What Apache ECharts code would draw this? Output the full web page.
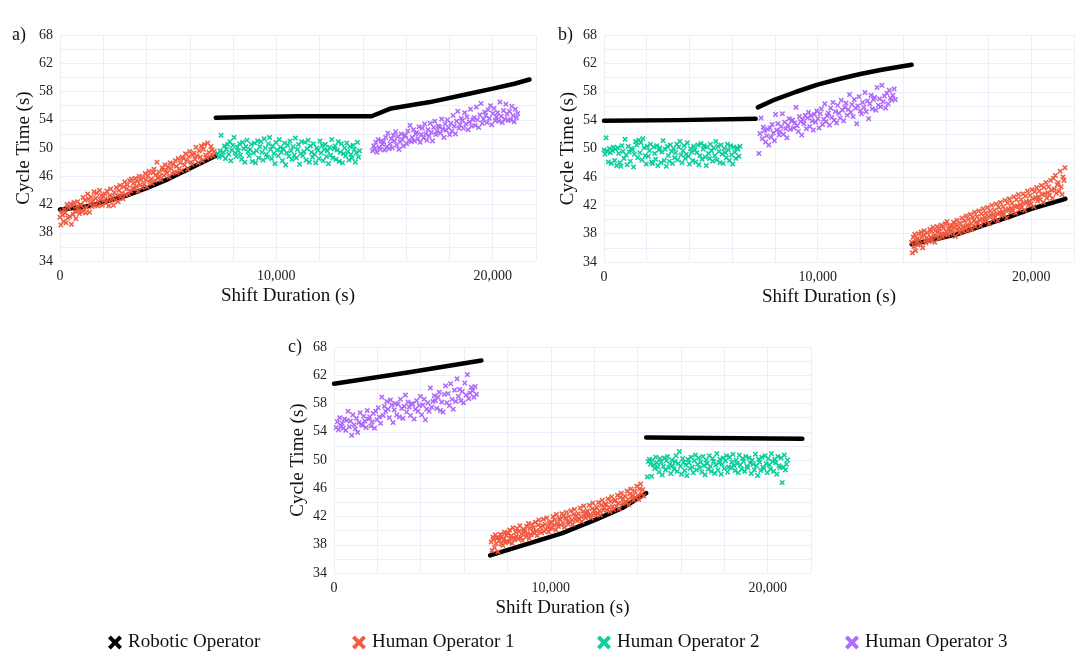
<!DOCTYPE html>
<html>
<head>
<meta charset="utf-8">
<script src="https://cdn.jsdelivr.net/npm/echarts/dist/echarts.min.js"></script>
<style>
  html, body { margin: 0; padding: 0; background: #ffffff; }
  #chart { width: 1077px; height: 661px; }
</style>
</head>
<body>
<div id="chart"></div>
<script>
// ---- Data -----------------------------------------------------------------
const operatorNames = ['Robotic Operator', 'Human Operator 1', 'Human Operator 2', 'Human Operator 3'];
const panelLetters = ['a)', 'b)', 'c)'];
const yTickValues = [34, 38, 42, 46, 50, 54, 58, 62, 66];
const yTickLabels = ['34', '38', '42', '46', '50', '54', '58', '62', '68'];

// Robotic operator cycle time curves, [shift time (s), cycle time (s)], one array per stretch
const robotA = [
  [[0, 41.3], [1000, 41.6], [2000, 42.3], [3000, 43.2], [4000, 44.3], [5000, 45.6], [6000, 47.1], [7200, 48.9]],
  [[7200, 54.3], [9000, 54.4], [11000, 54.5], [14400, 54.5], [15300, 55.6], [17100, 56.5], [18800, 57.6], [20000, 58.4], [21000, 59.1], [21700, 59.7]]
];
const robotB = [
  [[0, 53.9], [3500, 54.0], [7100, 54.2]],
  [[7200, 55.8], [8000, 56.9], [9000, 58.0], [10000, 59.0], [11000, 59.8], [12000, 60.5], [13000, 61.1], [14400, 61.8]],
  [[14400, 36.5], [15500, 37.2], [16500, 37.9], [18000, 39.4], [19000, 40.4], [20000, 41.5], [21600, 42.9]]
];
const robotC = [
  [[0, 60.8], [3400, 62.4], [6800, 64.1]],
  [[7200, 36.5], [9000, 38.2], [10500, 39.6], [12100, 41.6], [13300, 43.2], [14400, 45.3]],
  [[14400, 53.2], [21600, 53.0]]
];

// Human operator blocks: start time (s) and operator number of each block
const blockStartsA = [0, 7300, 14450];
const blockOperatorsA = [1, 2, 3];
const blockStartsB = [0, 7250, 14400];
const blockOperatorsB = [2, 3, 1];
const blockStartsC = [100, 7250, 14450];
const blockOperatorsC = [3, 1, 2];

// Successive cycle times (s) in each block; each cycle starts when the previous one ends
const cyclesA1 = [
  40.2,39.1,41.0,40.5,39.6,41.3,40.8,39.4,42.0,40.1,
  41.5,40.3,42.1,39.2,41.8,40.6,42.3,41.0,40.0,41.7,
  42.4,41.2,40.7,42.0,41.9,40.9,43.0,41.4,42.6,40.8,
  41.6,43.5,42.8,40.9,42.2,43.1,41.7,42.5,43.8,41.9,
  42.9,43.6,41.8,42.4,44.0,42.7,43.3,41.9,43.2,42.6,
  43.5,42.2,43.9,42.7,41.8,43.3,44.2,42.6,43.1,41.9,
  43.7,42.6,44.4,43.3,42.4,44.0,44.7,43.1,43.6,42.8,
  44.5,45.2,43.4,44.2,44.8,43.5,45.4,43.9,45.6,44.3,
  45.0,44.2,45.7,44.6,45.3,43.9,46.0,44.8,45.5,44.4,
  45.8,44.9,46.4,45.5,44.5,46.1,46.7,45.2,45.6,45.0,
  46.5,47.0,45.4,46.2,48.0,45.7,46.6,46.0,45.5,47.2,
  46.9,46.1,47.6,46.8,46.5,47.3,45.9,47.9,47.1,46.4,
  47.7,46.6,48.2,47.4,46.5,48.5,47.1,47.9,46.8,48.7,
  48.5,47.6,49.2,48.2,47.0,48.8,49.5,48.0,47.7,49.0,
  49.3,48.4,50.1,48.9,47.9,49.6,48.7,50.3,48.2,49.8,
  50.5,49.0,48.6,50.7,49.4,48.8,50.2,49.7,48.9,49.5
];
const cyclesA2 = [
  49.2,48.7,49.6,51.8,48.9,49.4,50.3,48.5,49.8,50.5,
  49.1,50.9,48.2,49.7,50.4,51.5,49.3,48.8,50.1,49.6,
  50.6,49.0,48.4,50.8,49.9,48.0,50.2,51.1,49.5,48.9,
  49.8,50.5,48.1,49.3,50.7,47.9,49.6,51.0,48.6,50.2,
  50.9,49.4,48.3,51.3,50.0,49.1,48.7,50.6,51.5,49.8,
  48.5,50.3,49.2,47.8,50.8,49.7,48.9,51.2,50.1,49.4,
  48.2,49.9,50.7,47.6,49.3,50.4,48.8,51.0,49.6,48.4,
  50.2,49.0,51.4,48.6,49.8,50.5,47.7,49.2,50.9,48.9,
  49.5,50.8,48.3,49.9,51.1,48.0,50.3,49.4,48.7,50.6,
  49.1,47.9,50.0,49.7,48.5,51.0,49.3,50.4,48.2,49.8,
  50.5,48.8,49.6,47.8,50.1,49.0,51.2,48.6,49.9,50.3,
  48.4,49.7,50.9,48.1,49.4,50.6,47.9,49.2,50.0,48.9,
  50.7,49.5,48.3,50.2,49.1,48.6,50.4,49.8,48.0,49.3,
  50.8,48.7,49.6
];
const cyclesA3 = [
  49.6,50.3,49.9,50.8,49.4,51.2,50.1,49.8,51.0,50.5,
  50.9,49.7,51.5,50.2,52.1,49.9,50.6,51.3,50.0,51.8,
  51.0,52.3,50.4,51.6,49.8,50.9,52.0,51.2,50.3,51.7,
  51.8,50.6,52.4,51.1,53.2,50.9,51.5,52.6,51.0,52.0,
  52.2,51.3,53.0,50.8,51.9,52.8,51.4,53.4,52.0,51.1,
  52.6,51.7,53.5,52.2,51.0,52.9,53.8,51.9,52.4,53.1,
  53.0,52.1,54.1,52.7,51.5,53.4,52.5,54.0,52.9,51.9,
  53.5,52.4,54.6,53.1,52.0,53.8,55.2,52.8,53.3,54.2,
  53.9,52.8,55.0,53.4,54.4,52.6,53.7,55.5,53.1,54.0,
  54.3,53.2,55.8,54.0,52.9,54.7,56.3,53.5,54.1,55.1,
  54.6,53.6,55.4,54.2,56.0,53.3,54.9,55.6,53.9,54.4,
  55.0,53.8,56.5,54.5,53.6,55.3,54.1,56.2,54.8,53.9,
  55.2,54.0,55.9,54.6,53.7,55.5,54.3,54.9
];
const cyclesB1 = [
  49.8,49.2,51.5,49.6,48.1,50.0,49.4,47.9,49.7,50.2,
  48.3,49.9,47.6,50.1,49.3,48.0,47.5,50.4,49.6,48.6,
  51.3,49.1,47.7,50.3,49.5,48.2,50.0,49.8,47.4,49.2,
  51.0,50.5,48.7,51.2,49.4,50.8,48.4,51.4,50.1,49.0,
  47.8,50.3,48.9,49.7,50.6,48.1,47.9,50.2,49.3,48.5,
  50.4,47.6,49.8,50.1,48.0,49.5,51.1,48.3,49.9,47.5,
  50.3,49.0,48.2,50.5,49.6,47.9,50.0,48.7,49.4,50.6,
  48.4,50.2,51.0,49.1,48.0,49.7,50.4,48.6,49.2,50.8,
  48.9,47.8,50.0,49.5,48.3,50.3,49.8,48.1,49.4,50.5,
  47.7,49.0,50.7,48.5,49.9,50.4,48.8,47.6,50.2,49.3,
  48.6,50.6,49.7,48.2,50.1,49.0,51.0,48.4,50.3,49.6,
  48.0,50.5,49.2,47.9,50.0,49.4,48.7,50.6,49.8,48.3,
  50.4,49.1,47.8,50.2,49.5,48.6,50.1,49.9,48.9,50.3
];
const cyclesB2 = [
  49.3,52.1,54.3,51.4,53.0,52.5,50.9,51.8,52.7,50.5,
  52.9,51.6,53.4,52.2,51.1,54.8,52.6,53.5,51.9,52.4,
  53.1,54.9,52.0,53.7,52.8,51.5,53.3,54.2,52.7,53.9,
  54.0,52.9,53.6,55.8,53.2,52.4,54.5,53.8,51.9,54.1,
  53.5,54.7,52.8,54.3,55.1,53.1,54.6,53.9,52.6,54.8,
  53.7,55.3,54.2,52.9,54.9,55.6,53.4,54.1,56.3,53.8,
  54.6,55.0,53.3,55.7,54.4,56.5,54.0,55.2,53.6,56.1,
  55.0,54.3,56.8,55.4,53.9,55.8,56.4,54.7,55.5,57.6,
  55.1,56.2,54.5,56.9,55.7,53.5,56.0,57.3,55.3,54.9,
  56.5,55.8,57.9,55.2,56.7,54.2,56.3,57.5,55.6,56.9,
  57.2,55.4,58.6,56.1,57.0,55.9,58.9,56.6,57.4,55.7,
  57.8,56.3,58.2,57.1,56.8,57.5,58.4,56.9
];
const cyclesB3 = [
  36.8,35.3,37.5,36.2,37.9,35.6,36.9,37.3,36.4,38.0,
  37.1,36.5,38.2,37.6,36.0,37.8,38.4,37.0,36.7,37.4,
  38.1,37.2,36.9,38.6,37.5,38.3,37.0,38.9,37.7,36.8,
  38.4,37.6,39.0,38.2,37.3,38.7,37.9,39.2,38.0,37.5,
  38.8,37.9,39.4,38.3,39.7,37.8,38.6,39.1,38.0,38.5,
  39.1,38.2,39.6,38.8,37.6,39.3,39.9,38.5,38.9,38.1,
  39.5,38.6,40.2,39.0,38.3,39.8,38.9,40.5,39.2,38.4,
  40.0,39.1,40.7,39.4,38.6,40.3,39.8,41.0,39.0,39.6,
  40.4,39.5,41.2,39.9,39.1,40.8,40.1,41.5,39.7,40.3,
  40.9,39.8,41.7,40.4,39.4,41.2,40.6,42.0,40.0,40.7,
  41.3,40.3,42.2,40.8,39.8,41.7,41.0,42.4,40.5,41.1,
  41.8,40.7,42.7,41.3,40.2,42.3,41.5,42.9,41.0,41.6,
  42.3,41.2,43.2,41.8,40.9,42.8,41.9,43.5,41.4,42.1,
  42.8,41.7,43.6,42.3,41.3,43.3,42.5,44.0,42.0,42.6,
  43.4,42.2,44.2,42.9,41.8,43.9,43.1,44.5,42.6,43.2,
  44.0,42.8,44.8,43.5,42.4,44.5,43.6,45.2,43.0,43.8,
  44.6,43.4,45.5,44.1,43.0,45.8,44.3,46.2,43.7,44.9,
  45.2,44.0,46.8,44.6,43.5,46.0,45.5,47.3
];
const cyclesC1 = [
  54.6,55.4,54.3,56.0,54.8,55.2,54.5,55.8,54.2,55.6,
  56.9,54.7,55.5,53.5,56.4,55.0,54.4,55.9,53.9,55.3,
  56.7,55.1,54.9,56.2,55.5,54.6,57.0,55.8,56.1,54.8,
  55.4,56.6,54.5,56.9,55.7,57.4,56.1,55.2,58.9,56.3,
  57.6,56.9,58.3,57.2,56.0,58.5,57.8,55.3,57.1,58.0,
  56.4,57.9,56.1,58.6,57.3,55.9,57.6,59.2,56.8,58.2,
  57.5,56.3,58.0,57.9,55.8,57.2,58.4,56.9,57.7,59.0,
  56.4,57.8,58.6,55.7,57.2,58.1,56.9,60.2,57.5,58.3,
  59.1,58.4,57.3,58.9,59.6,57.0,58.2,56.8,59.3,60.5,
  58.1,59.4,57.7,60.8,58.6,57.2,59.9,58.3,61.5,59.0,
  60.0,58.4,59.7,58.1,60.9,59.2,62.1,58.7,59.5,60.3,
  59.8,58.9,60.4,59.3
];
const cyclesC2 = [
  38.4,37.2,39.1,38.8,37.6,39.4,38.2,38.9,37.0,39.0,
  38.6,39.5,38.1,39.2,37.9,38.7,39.8,38.3,39.3,38.5,
  39.6,38.4,40.1,38.9,39.3,38.2,40.4,39.0,38.7,39.8,
  39.2,40.3,38.8,39.9,40.7,39.0,39.5,38.6,40.2,39.7,
  40.0,39.1,40.6,39.6,41.0,38.9,40.3,39.4,40.9,39.8,
  40.4,39.6,41.2,40.0,39.3,40.8,41.5,39.9,40.5,39.7,
  40.7,41.6,39.9,40.9,40.2,41.8,40.5,39.8,41.1,40.3,
  41.2,40.4,42.0,40.8,41.5,40.1,42.3,41.0,40.6,41.7,
  41.6,40.8,42.4,41.1,42.0,40.5,41.8,42.6,41.3,40.9,
  42.0,41.2,42.8,41.5,40.9,42.3,43.0,41.6,42.1,41.4,
  42.4,41.6,43.2,42.0,41.3,42.7,43.5,42.1,41.8,42.5,
  42.8,42.0,43.6,42.3,41.8,43.1,43.9,42.4,42.9,42.2,
  43.3,42.4,44.0,42.8,42.2,43.6,44.3,42.9,43.2,43.7,
  43.8,42.9,44.5,43.3,42.7,44.1,44.8,43.4,43.0,44.2,
  44.3,43.4,45.0,43.9,43.1,44.7,45.3,43.8,44.5,44.0,
  44.9,44.0,45.6,44.4,43.7,45.2,45.9,44.5,45.0,44.3,
  45.6,44.7,46.3,45.0,44.4,45.9,46.6,45.2,45.8,44.9
];
const cyclesC3 = [
  47.6,49.8,50.1,49.4,47.7,50.0,49.3,48.8,50.4,49.6,
  49.0,48.3,50.2,49.7,47.9,49.1,50.3,48.6,49.9,50.5,
  48.9,49.4,48.1,50.0,49.2,48.7,49.8,50.6,48.4,49.5,
  51.2,49.1,48.0,50.2,49.7,48.5,49.3,47.8,50.1,49.6,
  48.8,50.4,49.0,48.2,49.9,50.7,48.6,49.4,50.3,48.9,
  49.7,48.3,50.5,49.2,47.9,50.0,49.5,48.7,50.6,49.1,
  48.4,50.2,49.8,48.1,49.3,50.9,48.6,49.6,50.1,48.0,
  49.4,50.3,48.8,49.9,50.6,48.3,49.0,50.4,48.9,49.7,
  50.8,49.2,48.5,50.0,49.5,48.2,50.7,49.3,48.7,50.2,
  49.8,48.4,50.5,49.1,48.9,50.3,49.6,48.1,50.0,49.4,
  48.6,50.8,49.2,47.8,50.1,49.7,48.5,50.4,49.0,48.8,
  50.6,49.5,48.2,50.2,49.3,48.7,50.9,49.8,48.4,50.1,
  49.6,48.0,50.5,49.2,48.9,50.3,46.8,49.0,50.7,48.6,
  49.4,50.0
];

// ---- Styling and layout -------------------------------------------------------
const FONT = '"Liberation Serif", "Times New Roman", serif';
const operatorColors = ['#000000', '#EF553B', '#00CC96', '#AB63FA'];
const GRID_COLOR = '#EBF0F8';
const X_ICON = 'path://M2,0 L5,3 L8,0 L10,2 L7,5 L10,8 L8,10 L5,7 L2,10 L0,8 L3,5 L0,2 Z';

const panelGrids = [
  { left: 60, top: 35, width: 476, height: 226 },
  { left: 604, top: 35, width: 476, height: 227 },
  { left: 334, top: 347, width: 477, height: 226 }
];
const panelRobots = [robotA, robotB, robotC];
const panelBlocks = [
  { starts: blockStartsA, ops: blockOperatorsA, cycles: [cyclesA1, cyclesA2, cyclesA3] },
  { starts: blockStartsB, ops: blockOperatorsB, cycles: [cyclesB1, cyclesB2, cyclesB3] },
  { starts: blockStartsC, ops: blockOperatorsC, cycles: [cyclesC1, cyclesC2, cyclesC3] }
];

// Place each cycle at the shift time it starts
function blockPoints(start, cycles) {
  let t = start;
  return cycles.map(c => { const p = [t, c]; t += c; return p; });
}

const grids = [], xAxes = [], yAxes = [], series = [], graphics = [];

panelGrids.forEach((g, i) => {
  grids.push(Object.assign({ containLabel: false }, g));
  xAxes.push({
    type: 'value', gridIndex: i, min: 0, max: 22000, interval: 2000,
    name: 'Shift Duration (s)', nameLocation: 'middle', nameGap: 26,
    nameTextStyle: { fontFamily: FONT, fontSize: 19, color: '#111', padding: [0, 20, 0, 0] },
    axisLine: { show: false }, axisTick: { show: false },
    axisLabel: {
      fontFamily: FONT, fontSize: 14, color: '#222', margin: 8,
      formatter: v => (v % 10000 === 0 && v <= 20000) ? v.toLocaleString('en-US') : ''
    },
    splitLine: { show: true, lineStyle: { color: GRID_COLOR, width: 1 } }
  });
  yAxes.push({
    type: 'value', gridIndex: i, min: 34, max: 66, interval: 2,
    name: 'Cycle Time (s)', nameLocation: 'middle', nameGap: 26,
    nameTextStyle: { fontFamily: FONT, fontSize: 19, color: '#111' },
    axisLine: { show: false }, axisTick: { show: false },
    axisLabel: {
      fontFamily: FONT, fontSize: 14, color: '#222', margin: 7,
      formatter: v => { const k = yTickValues.indexOf(v); return k < 0 ? '' : yTickLabels[k]; }
    },
    splitLine: { show: true, lineStyle: { color: GRID_COLOR, width: 1 } }
  });

  panelRobots[i].forEach(seg => {
    series.push({
      type: 'line', name: operatorNames[0], xAxisIndex: i, yAxisIndex: i,
      data: seg, showSymbol: false, smooth: false,
      color: operatorColors[0],
      lineStyle: { color: operatorColors[0], width: 4.5, cap: 'round', join: 'round' },
      z: 2, silent: true
    });
  });

  const b = panelBlocks[i];
  b.cycles.forEach((cyc, k) => {
    const op = b.ops[k];
    series.push({
      type: 'scatter', name: operatorNames[op], xAxisIndex: i, yAxisIndex: i,
      data: blockPoints(b.starts[k], cyc),
      symbol: X_ICON, symbolSize: 5.5,
      itemStyle: { color: operatorColors[op], opacity: 0.95 },
      z: 3, silent: true
    });
  });

  graphics.push({
    type: 'text', left: [12, 558, 288][i], top: [26, 26, 338][i],
    style: { text: panelLetters[i], font: '18px ' + FONT, fill: '#111' }
  });
});

const legendLefts = [108, 352, 597, 845];
const legends = operatorNames.map((n, i) => ({
  data: [n], left: legendLefts[i], top: 633, padding: 0,
  icon: X_ICON, itemWidth: 14, itemHeight: 14, itemGap: 0,
  selectedMode: false,
  textStyle: { fontFamily: FONT, fontSize: 19, color: '#111', padding: [0, 0, 0, 1] }
}));

const chart = echarts.init(document.getElementById('chart'), null, { renderer: 'canvas' });
chart.setOption({
  backgroundColor: '#ffffff',
  animation: false,
  grid: grids,
  xAxis: xAxes,
  yAxis: yAxes,
  legend: legends,
  graphic: graphics,
  series: series
});
</script>
</body>
</html>
